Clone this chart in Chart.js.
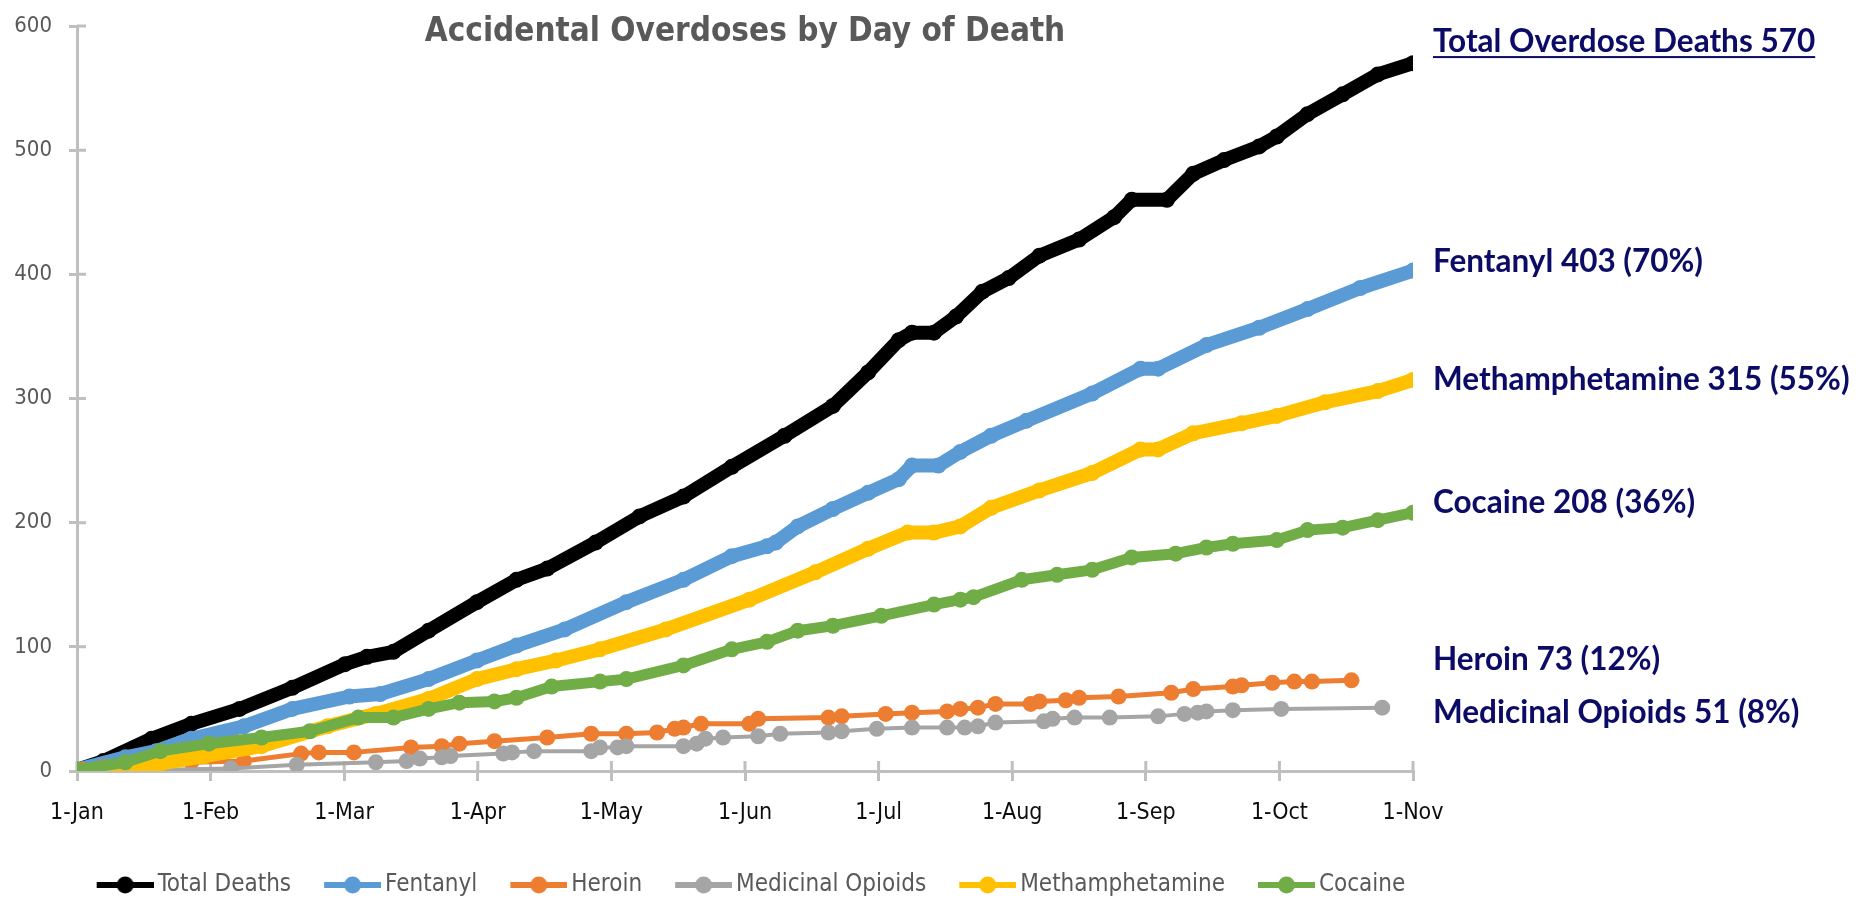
<!DOCTYPE html>
<html>
<head>
<meta charset="utf-8">
<title>Accidental Overdoses by Day of Death</title>
<script src="https://cdn.jsdelivr.net/npm/chart.js@4.4.1/dist/chart.umd.min.js"></script>
<style>
  html, body { margin: 0; padding: 0; background: #fff; }
  #overdose-chart { display: block; }
</style>
</head>
<body>
<canvas id="overdose-chart" width="1868" height="897"></canvas>
<script>
// ------------------------------------------------ data ------------------------------------------------
const chartTitle = "Accidental Overdoses by Day of Death";
const monthLabels = ["1-Jan", "1-Feb", "1-Mar", "1-Apr", "1-May", "1-Jun", "1-Jul", "1-Aug", "1-Sep", "1-Oct", "1-Nov"];
const monthTickDays = [0, 30.4, 60.8, 91.2, 121.6, 152, 182.4, 212.8, 243.2, 273.6, 304];

const seriesNames = ["Total Deaths", "Fentanyl", "Heroin", "Medicinal Opioids", "Methamphetamine", "Cocaine"];

// day of year (from 1-Jan) and cumulative count
const totalDays = [0, 6, 17, 26, 37, 49, 61, 66, 72, 80, 91, 100, 107, 118, 128, 138, 149, 161, 172, 180, 187, 190, 195, 200, 206, 212, 219, 228, 236, 240, 248, 254, 261, 269, 273, 280, 288, 296, 304];
const totalDeaths = [1, 8, 26, 38, 50, 67, 86, 92, 96, 113, 136, 154, 163, 184, 205, 221, 245, 270, 294, 321, 347, 353, 353, 366, 386, 397, 415, 428, 446, 460, 460, 481, 492, 503, 511, 529, 545, 561, 570];

const fentanylDays = [0, 11, 18, 26, 38, 49, 62, 69, 80, 91, 100, 111, 125, 138, 149, 157, 159, 164, 172, 180, 187, 190, 196, 201, 208, 216, 231, 242, 246, 257, 269, 280, 292, 304];
const fentanylDeaths = [1, 11, 16, 26, 36, 50, 60, 62, 74, 89, 101, 114, 136, 154, 173, 181, 184, 197, 211, 224, 235, 246, 246, 257, 270, 282, 304, 324, 324, 343, 357, 372, 389, 403];

const heroinDays = [1, 6, 26, 38, 51, 55, 63, 76, 83, 87, 95, 107, 117, 125, 132, 136, 138, 142, 153, 155, 171, 174, 184, 190, 198, 201, 205, 209, 217, 219, 225, 228, 237, 249, 254, 263, 265, 272, 277, 281, 290];
const heroinDeaths = [1, 3, 7, 8, 14, 15, 15, 19, 20, 22, 24, 27, 30, 30, 31, 34, 35, 38, 38, 42, 43, 44, 46, 47, 48, 50, 51, 54, 54, 56, 57, 59, 60, 63, 66, 68, 69, 71, 72, 72, 73];

const opioidDays = [20, 35, 50, 68, 75, 78, 83, 85, 97, 99, 104, 117, 119, 123, 125, 138, 141, 143, 147, 155, 160, 171, 174, 182, 190, 198, 202, 205, 209, 220, 222, 227, 235, 246, 252, 255, 257, 263, 274, 297];
const opioidDeaths = [1, 2, 5, 7, 8, 10, 11, 12, 14, 15, 16, 16, 19, 19, 20, 20, 22, 26, 27, 28, 30, 31, 32, 34, 35, 35, 35, 36, 39, 40, 42, 43, 43, 44, 46, 47, 48, 49, 50, 51];

const methDays = [4, 8, 19, 29, 42, 57, 68, 80, 91, 100, 109, 119, 134, 153, 168, 180, 189, 195, 201, 208, 219, 231, 242, 246, 254, 265, 273, 284, 296, 304];
const methDeaths = [1, 2, 6, 12, 20, 36, 46, 58, 74, 82, 89, 98, 114, 138, 160, 179, 192, 192, 197, 212, 226, 240, 259, 259, 272, 280, 286, 297, 306, 315];

const cocaineDays = [0, 11, 19, 30, 42, 53, 64, 72, 80, 87, 95, 100, 108, 119, 125, 138, 149, 157, 164, 172, 183, 195, 201, 204, 215, 223, 231, 240, 250, 257, 263, 273, 280, 288, 296, 304];
const cocaineDeaths = [1, 7, 16, 22, 27, 32, 43, 43, 50, 55, 56, 59, 68, 72, 74, 85, 98, 104, 113, 117, 125, 134, 138, 140, 154, 158, 162, 172, 175, 180, 183, 186, 194, 196, 202, 208];

const calloutTexts = ["Total Overdose Deaths 570", "Fentanyl 403 (70%)", "Methamphetamine 315 (55%)", "Cocaine 208 (36%)", "Heroin 73 (12%)", "Medicinal Opioids 51 (8%)"];

// ------------------------------------------------ styles ------------------------------------------------
const seriesDays = [totalDays, fentanylDays, heroinDays, opioidDays, methDays, cocaineDays];
const seriesValues = [totalDeaths, fentanylDeaths, heroinDeaths, opioidDeaths, methDeaths, cocaineDeaths];
const seriesColors = ["#000000", "#5b9bd5", "#ed7d31", "#a5a5a5", "#ffc000", "#70ad47"];
const seriesLineWidths = [14, 14, 5, 4, 14, 11];

const calloutLevels = [579, 402, 307, 208, 81, 39]; // baseline of each callout, in y-axis units
const legendShift = [33, 10];

const narrow = "'DejaVu Sans Condensed', 'DejaVu Sans', sans-serif";
const axisGrey = "#bfbfbf";

function legendIcon(color) {
    const c = document.createElement("canvas");
    c.width = 88;
    c.height = 22;
    const g = c.getContext("2d");
    g.strokeStyle = color;
    g.lineWidth = 6;
    g.beginPath();
    g.moveTo(31, 11);
    g.lineTo(88, 11);
    g.stroke();
    g.fillStyle = color;
    g.beginPath();
    g.arc(59.5, 11, 8.5, 0, Math.PI * 2);
    g.fill();
    return c;
}

const overlay = {
    id: "overlay",
    afterUpdate(chart) {
        const lg = chart.legend;
        lg.left += legendShift[0];
        lg.right += legendShift[0];
        lg.top += legendShift[1];
        lg.bottom += legendShift[1];
    },
    beforeDatasetsDraw(chart) {
        // inner half of the crossing tick marks
        const {ctx, chartArea, scales} = chart;
        ctx.save();
        ctx.strokeStyle = axisGrey;
        ctx.lineWidth = 3;
        ctx.beginPath();
        scales.x.ticks.forEach(t => {
            const px = scales.x.getPixelForValue(t.value);
            ctx.moveTo(px, chartArea.bottom);
            ctx.lineTo(px, chartArea.bottom - 10);
        });
        scales.y.ticks.forEach(t => {
            const py = scales.y.getPixelForValue(t.value);
            ctx.moveTo(chartArea.left, py);
            ctx.lineTo(chartArea.left + 9, py);
        });
        ctx.stroke();
        ctx.restore();
    },
    afterDraw(chart) {
        const {ctx, chartArea, scales} = chart;
        ctx.save();
        ctx.fillStyle = "#595959";
        ctx.font = "bold 33px " + narrow;
        ctx.textAlign = "center";
        ctx.textBaseline = "alphabetic";
        ctx.fillText(chartTitle, (chartArea.left + chartArea.right) / 2, chartArea.top + 15);

        ctx.fillStyle = "#0c0c66";
        ctx.font = "bold 31.5px Lato, 'Open Sans', sans-serif";
        ctx.textAlign = "left";
        const x = chartArea.right + 20;
        calloutTexts.forEach((txt, i) => {
            const y = scales.y.getPixelForValue(calloutLevels[i]);
            ctx.fillText(txt, x, y);
            if (i === 0) {
                ctx.fillRect(x, y + 4, ctx.measureText(txt).width, 2);
            }
        });
        ctx.restore();
    }
};

const ctx = document.getElementById("overdose-chart");
new Chart(ctx, {
    type: "line",
    data: {
        datasets: seriesNames.map((name, i) => ({
            label: name,
            data: seriesDays[i].map((d, k) => ({x: d, y: seriesValues[i][k]})),
            borderColor: seriesColors[i],
            backgroundColor: seriesColors[i],
            pointBackgroundColor: seriesColors[i],
            borderWidth: seriesLineWidths[i],
            pointRadius: 8,
            pointBorderWidth: 0,
            order: seriesNames.length - 1 - i
        }))
    },
    options: {
        responsive: false,
        animation: false,
        layout: { padding: { left: 0, right: 455, top: 26, bottom: 0 } },
        elements: {
            line: { tension: 0, borderJoinStyle: "round", borderCapStyle: "round" }
        },
        scales: {
            x: {
                type: "linear",
                min: 0,
                max: 304,
                afterBuildTicks: s => { s.ticks = monthTickDays.map(v => ({value: v})); },
                afterFit: s => { s.height = 82; },
                ticks: {
                    callback: (v, i) => monthLabels[i],
                    color: "#0d0d0d",
                    font: { family: narrow, size: 23 },
                    padding: 18,
                    maxRotation: 0,
                    autoSkip: false
                },
                grid: { drawOnChartArea: false, color: axisGrey, lineWidth: 3, tickLength: 10 },
                border: { color: axisGrey, width: 3 }
            },
            y: {
                min: 0,
                max: 600,
                afterFit: s => { s.width = 77; s.paddingTop = 0; s.paddingBottom = 0; },
                ticks: {
                    stepSize: 100,
                    color: "#595959",
                    font: { family: narrow, size: 22 },
                    padding: 17
                },
                grid: { drawOnChartArea: false, color: axisGrey, lineWidth: 3, tickLength: 8 },
                border: { color: axisGrey, width: 3 }
            }
        },
        plugins: {
            tooltip: { enabled: false },
            legend: {
                position: "bottom",
                labels: {
                    usePointStyle: true,
                    pointStyleWidth: 72,
                    padding: 10,
                    color: "#595959",
                    font: { family: narrow, size: 24 },
                    generateLabels: chart => chart.data.datasets.map((ds, i) => ({
                        text: ds.label,
                        fillStyle: ds.borderColor,
                        strokeStyle: ds.borderColor,
                        fontColor: "#595959",
                        lineWidth: 0,
                        pointStyle: legendIcon(ds.borderColor),
                        hidden: false,
                        datasetIndex: i
                    }))
                }
            }
        }
    },
    plugins: [overlay]
});
</script>
</body>
</html>
